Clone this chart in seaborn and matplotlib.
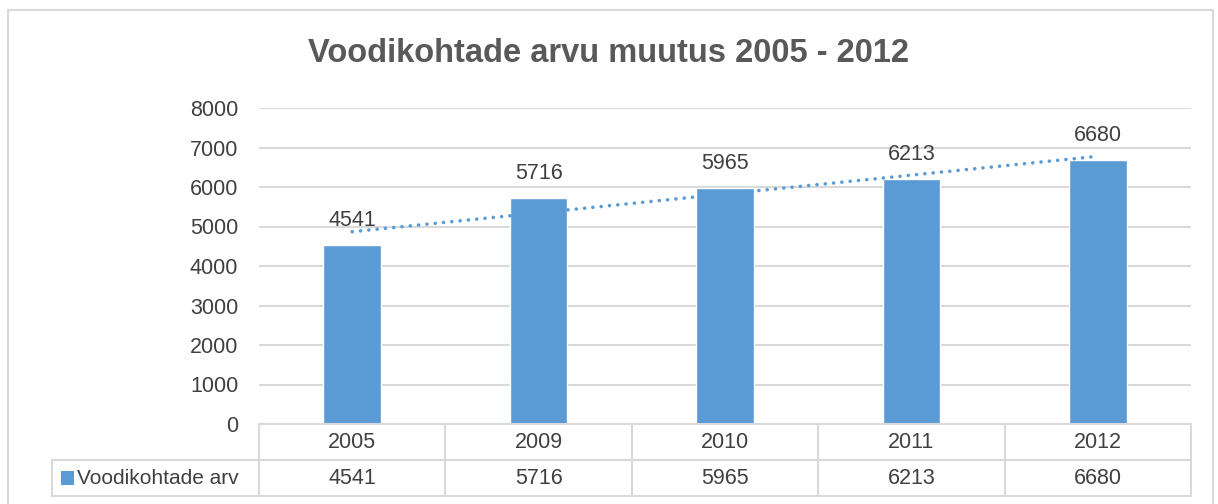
import numpy as np
import pandas as pd
import matplotlib
matplotlib.use("Agg")
import matplotlib.pyplot as plt
import matplotlib.transforms as mtransforms
from matplotlib.patches import Rectangle
import seaborn as sns

# Chart data
years = ["2005", "2009", "2010", "2011", "2012"]
beds = [4541, 5716, 5965, 6213, 6680]
series_name = "Voodikohtade arv"
title = "Voodikohtade arvu muutus 2005 - 2012"

bar_color = "#5b9bd5"
text_color = "#404040"
line_color = "#d9d9d9"

sns.set_theme(style="white")
plt.rcParams["font.family"] = ["Liberation Sans", "DejaVu Sans"]

df = pd.DataFrame({"Aasta": years, "Voodikohti": beds})

fig = plt.figure(figsize=(12.18, 5.04), dpi=100)
ax = fig.add_axes([259 / 1218, 1 - 424 / 504, (1191 - 259) / 1218, (424 - 108) / 504])

sns.barplot(data=df, x="Aasta", y="Voodikohti", color=bar_color, width=0.31,
            saturation=1, ax=ax)
ax.bar_label(ax.containers[0], fmt="%d", padding=10, fontsize=15.5, color=text_color)

# linear trendline (like Excel, fitted on category index 1..n)
idx = np.arange(1, len(beds) + 1)
slope, intercept = np.polyfit(idx, beds, 1)
ax.plot(np.arange(len(beds)), slope * idx + intercept, linestyle=(0, (0.01, 2.3)),
        color=bar_color, linewidth=2.6, dash_capstyle="round", zorder=3)

ax.set_ylim(0, 8000)
ax.set_xlim(-0.5, len(years) - 0.5)
ax.set_yticks(range(0, 8001, 1000))
ax.yaxis.grid(True, color=line_color, linewidth=1.5)
ax.set_axisbelow(True)
ax.tick_params(axis="y", length=0, pad=15, labelsize=15.5, labelcolor=text_color)
ax.set_xticks([])
ax.set_xlabel("")
ax.set_ylabel("")
for s in ax.spines.values():
    s.set_visible(False)

# data table under the chart
row_h = 36 / 316
trans = mtransforms.blended_transform_factory(ax.transData, ax.transAxes)
left_x = -0.5 - (259 - 52) / 186.5
kw = dict(color=line_color, linewidth=1.5, clip_on=False, transform=trans)
ax.plot([-0.5, len(years) - 0.5], [0, 0], **kw)
ax.plot([left_x, len(years) - 0.5], [-row_h, -row_h], **kw)
ax.plot([left_x, len(years) - 0.5], [-2 * row_h, -2 * row_h], **kw)
ax.plot([left_x, left_x], [-row_h, -2 * row_h], **kw)
for b in np.arange(-0.5, len(years), 1.0):
    ax.plot([b, b], [0, -2 * row_h], **kw)
for i, (yr, v) in enumerate(zip(years, beds)):
    ax.text(i, -0.5 * row_h, yr, ha="center", va="center", fontsize=15.5,
            color=text_color, transform=trans)
    ax.text(i, -1.5 * row_h, str(v), ha="center", va="center", fontsize=15.5,
            color=text_color, transform=trans)
ax.add_patch(Rectangle((left_x + 0.048, -1.5 * row_h - 0.022), 0.072, 0.045,
                       facecolor=bar_color, edgecolor="none", clip_on=False,
                       transform=trans))
ax.text(left_x + 0.135, -1.5 * row_h, series_name, ha="left", va="center",
        fontsize=15, color=text_color, transform=trans)

fig.text(0.5, 1 - 53 / 504, title, ha="center", va="center", fontsize=23.5,
         fontweight="bold", color="#595959")

# outer chart border
fig.patches.append(Rectangle((8 / 1218, -0.01), (1213 - 8) / 1218, 1 - 10 / 504 + 0.01,
                             transform=fig.transFigure, facecolor="none",
                             edgecolor=line_color, linewidth=1.5))

fig.savefig("out.png", dpi=100)
